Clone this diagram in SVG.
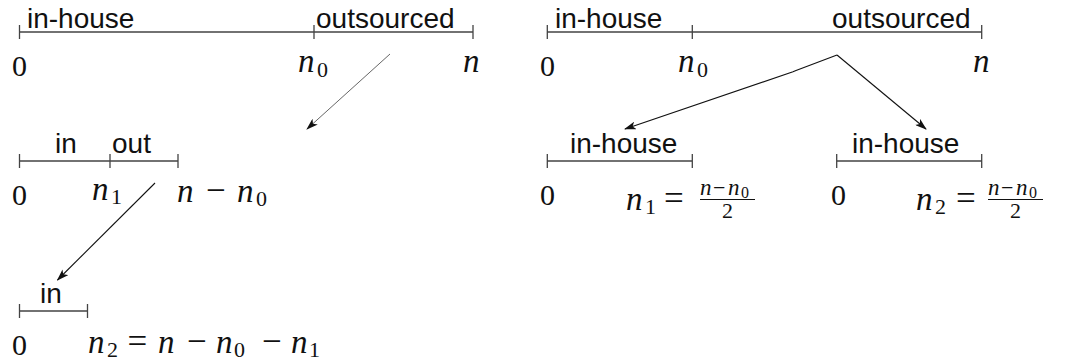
<svg xmlns="http://www.w3.org/2000/svg" width="1076" height="364" viewBox="0 0 1076 364">
<style>
.lbl{font-family:'Liberation Sans',Arial,sans-serif;font-size:28px;fill:#111}
.m{font-family:'Liberation Serif','DejaVu Serif',serif;fill:#111}
.num{font-size:30px}
.mi{font-style:italic;font-size:33px}
.mr{font-size:35px}
.sub{font-size:22px}
.fi{font-style:italic;font-size:23px}
.fr{font-size:22px}
.fs{font-size:16px}
.axis{stroke:#444;stroke-width:1.3;fill:none}
.arr{stroke:#111;stroke-width:1.1;fill:none;marker-end:url(#ah)}
.arrg{stroke:#555;stroke-width:0.9;fill:none;marker-end:url(#ah)}
</style>
<defs>
<marker id="ah" viewBox="0 0 12 8" refX="11" refY="4" markerWidth="12" markerHeight="8" markerUnits="userSpaceOnUse" orient="auto">
<path d="M0,0 L12,4 L0,8 L3,4 z" fill="#111"/>
</marker>
</defs>

<g id="panelA">
<path class="axis" d="M19.5,32 H473 M19.5,25 V39 M314,25 V39 M473,25 V39"/>
<text class="lbl" x="27" y="27.5">in-house</text>
<text class="lbl" x="316" y="27.5">outsourced</text>
<text class="m num" x="19.5" y="76" text-anchor="middle">0</text>
<text class="m mi" x="298" y="72">n</text><text class="m sub" x="317" y="77">0</text>
<text class="m mi" x="463" y="72">n</text>
</g>

<g id="panelB">
<path class="axis" d="M19.5,161 H178 M19.5,154 V168 M110,154 V168 M178,154 V168"/>
<text class="lbl" x="55" y="153">in</text>
<text class="lbl" x="112" y="153">out</text>
<text class="m num" x="19.5" y="205" text-anchor="middle">0</text>
<text class="m mi" x="92" y="200">n</text><text class="m sub" x="111" y="204">1</text>
<text class="m mi" x="177" y="202">n</text>
<text class="m mr" x="206" y="202">−</text>
<text class="m mi" x="237" y="202">n</text><text class="m sub" x="256" y="206">0</text>
</g>

<g id="panelC">
<path class="axis" d="M19.5,311 H87.5 M19.5,304 V318 M87.5,304 V318"/>
<text class="lbl" x="40" y="303">in</text>
<text class="m num" x="19.5" y="355" text-anchor="middle">0</text>
<text class="m mi" x="88" y="353">n</text><text class="m sub" x="107" y="357">2</text>
<text class="m mr" x="127.5" y="353">=</text>
<text class="m mi" x="158" y="353">n</text>
<text class="m mr" x="187" y="353">−</text>
<text class="m mi" x="216" y="353">n</text><text class="m sub" x="234" y="357">0</text>
<text class="m mr" x="262" y="353">−</text>
<text class="m mi" x="291" y="353">n</text><text class="m sub" x="309" y="357">1</text>
</g>

<g id="panelD">
<path class="axis" d="M547.3,32 H981.7 M547.3,25 V39 M692.3,25 V39 M981.7,25 V39"/>
<text class="lbl" x="555" y="27.5">in-house</text>
<text class="lbl" x="832" y="27.5">outsourced</text>
<text class="m num" x="547.5" y="76" text-anchor="middle">0</text>
<text class="m mi" x="678" y="72">n</text><text class="m sub" x="697" y="77">0</text>
<text class="m mi" x="973" y="72">n</text>
</g>

<g id="panelE1">
<path class="axis" d="M547.3,161 H692.3 M547.3,154 V168 M692.3,154 V168"/>
<text class="lbl" x="570" y="153">in-house</text>
<text class="m num" x="547.5" y="205" text-anchor="middle">0</text>
<text class="m mi" x="626" y="210">n</text><text class="m sub" x="645" y="214">1</text>
<text class="m mr" x="664" y="210">=</text>
<text class="m fi" x="700" y="195">n</text>
<text class="m fr" x="713" y="195">−</text>
<text class="m fi" x="728" y="195">n</text><text class="m fs" x="741" y="198">0</text>
<path d="M700,199.5 H755" stroke="#111" stroke-width="1"/>
<text class="m fr" x="727.5" y="218" text-anchor="middle">2</text>
</g>

<g id="panelE2">
<path class="axis" d="M836.7,161 H981.7 M836.7,154 V168 M981.7,154 V168"/>
<text class="lbl" x="852" y="153">in-house</text>
<text class="m num" x="838.5" y="205" text-anchor="middle">0</text>
<text class="m mi" x="916" y="210">n</text><text class="m sub" x="935" y="214">2</text>
<text class="m mr" x="956" y="210">=</text>
<text class="m fi" x="988" y="195">n</text>
<text class="m fr" x="1001" y="195">−</text>
<text class="m fi" x="1016" y="195">n</text><text class="m fs" x="1029" y="198">0</text>
<path d="M988,199.5 H1043" stroke="#111" stroke-width="1"/>
<text class="m fr" x="1015.5" y="218" text-anchor="middle">2</text>
</g>

<g id="connectors">
<path class="arrg" d="M390,54 L307,129"/>
<path class="arr" d="M155,183 L57.5,280"/>
<path class="arr" d="M837,55 L796,70.5 L793,71.8 L625,129"/>
<path class="arr" d="M837,55 L926,129"/>
</g>
</svg>
